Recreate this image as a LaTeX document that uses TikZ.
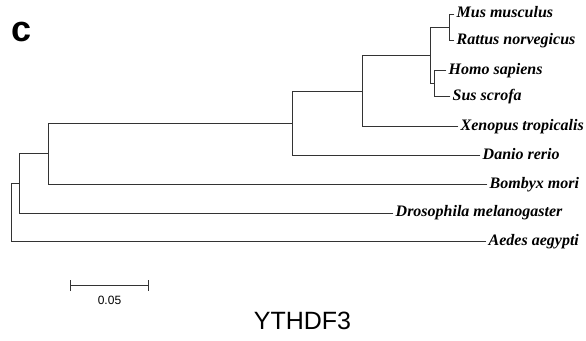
\documentclass[tikz,border=0pt]{standalone}
\usepackage{fontspec}
\setmainfont{Liberation Serif}
\setsansfont{Liberation Sans}
\usepackage{xcolor}
\usetikzlibrary{arrows.meta,positioning}
\definecolor{branch}{HTML}{333333}
\definecolor{ink}   {HTML}{000000}
\tikzset{
  edge/.style={draw=branch,line width=0.9pt,line cap=rect},
  taxon/.style={anchor=west,inner sep=2.5pt,text=ink,
                text height=10pt,text depth=3pt,
                font=\fontsize{16}{18}\selectfont\bfseries\itshape},
  inode/.style={coordinate}
}

\begin{document}
\begin{tikzpicture}[x=1pt,y=-1pt]
  \useasboundingbox (0,0) rectangle (586,340);

  % panel letter
  \node[font=\fontsize{36}{40}\selectfont\sffamily\bfseries,inner sep=0pt] (panel) at (22,32) {c};

  % leaves
  \node[taxon] (mus) at (454,14)    {Mus musculus};
  \node[taxon] (rat) at (454,40.7)  {Rattus norvegicus};
  \node[taxon] (hom) at (446,70.7)  {Homo sapiens};
  \node[taxon] (sus) at (450,96.7)  {Sus scrofa};
  \node[taxon] (xen) at (458,126.7) {Xenopus tropicalis};
  \node[taxon] (dan) at (480,155.5) {Danio rerio};
  \node[taxon] (bom) at (487,184.5) {Bombyx mori};
  \node[taxon] (dro) at (393,213)   {Drosophila melanogaster};
  \node[taxon] (aed) at (486,241.5) {Aedes aegypti};

  % internal nodes
  \coordinate (murid) at (449.5,27.4);
  \coordinate (homsus) at (434,83.7);
  \coordinate (mammal) at (430,55.5);
  \coordinate (tetra) at (362,91);
  \coordinate (verte) at (292,123);
  \coordinate (deut) at (48,153.8);
  \coordinate (bilat) at (19,183.4);
  \coordinate (root) at (11,212.5);

  \draw[edge] (murid) |- (mus.west);
  \draw[edge] (murid) |- (rat.west);
  \draw[edge] (homsus) |- (hom.west);
  \draw[edge] (homsus) |- (sus.west);
  \draw[edge] (mammal) |- (murid);
  \draw[edge] (mammal) |- (homsus);
  \draw[edge] (tetra) |- (mammal);
  \draw[edge] (tetra) |- (xen.west);
  \draw[edge] (verte) |- (tetra);
  \draw[edge] (verte) |- (dan.west);
  \draw[edge] (deut) |- (verte);
  \draw[edge] (deut) |- (bom.west);
  \draw[edge] (bilat) |- (deut);
  \draw[edge] (bilat) |- (dro.west);
  \draw[edge] (root) |- (bilat);
  \draw[edge] (root) |- (aed.west);

  % scale bar
  \coordinate (sbl) at (70,285.5);
  \coordinate (sbr) at (149,285.5);
  \draw[draw=branch,line width=0.9pt,{Bar[width=11pt]}-{Bar[width=11pt]}] (sbl) -- (sbr);
  \node[font=\fontsize{12}{14}\selectfont\sffamily,inner sep=0pt] (sblab) at (109.5,300.5) {0.05};

  % gene name
  \node[font=\fontsize{25}{30}\selectfont\sffamily,inner sep=0pt] (gene) at (302.5,321) {YTHDF3};
\end{tikzpicture}
\end{document}
